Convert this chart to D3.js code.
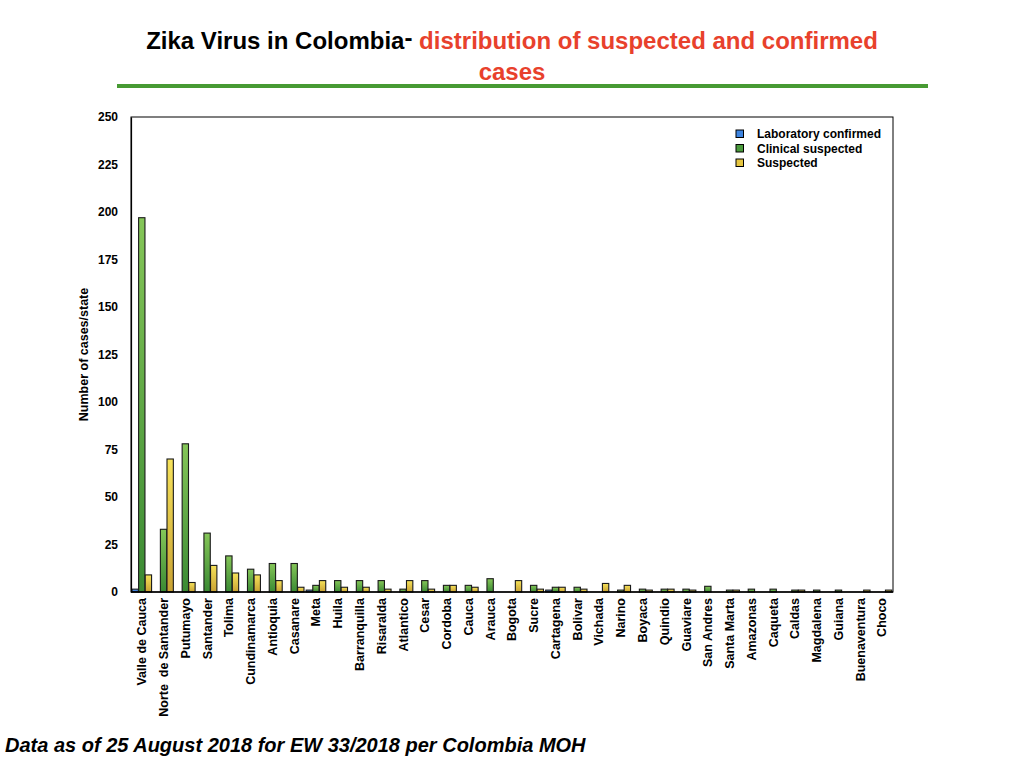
<!DOCTYPE html>
<html>
<head>
<meta charset="utf-8">
<script src="https://cdn.jsdelivr.net/npm/d3@7/dist/d3.min.js"></script>
<style>
  html, body { margin: 0; padding: 0; background: #fff; }
  svg { display: block; font-family: "Liberation Sans", Arial, Helvetica, sans-serif; }
</style>
</head>
<body>
<svg id="chart" width="1024" height="768"></svg>
<script>
const categories = ["Valle de Cauca","Norte  de Santander","Putumayo","Santander","Tolima","Cundinamarca","Antioquia","Casanare","Meta","Huila","Barranquilla","Risaralda","Atlantico","Cesar","Cordoba","Cauca","Arauca","Bogota","Sucre","Cartagena","Bolivar","Vichada","Narino","Boyaca","Quindio","Guaviare","San Andres","Santa Marta","Amazonas","Caqueta","Caldas","Magdalena","Guiana","Buenaventura","Choco"];
const labConfirmed      = [1.5,0,0,0,0,0,0,0,1,0,0,0,0,0,0,0,0,0,0,1,0,0,0,0,0,0,0,0,0,0,0,0,0,0,0];
const clinicalSuspected = [197,33,78,31,19,12,15,15,3.5,6,6,6,1.5,6,3.5,3.5,7,0,3.5,2.5,2.5,0,1,1.5,1.5,1.5,3,1,1.5,1.5,1,1,1,0,0];
const suspected         = [9,70,5,14,10,9,6,2.5,6,2.5,2.5,1.5,6,1.5,3.5,2.5,0,6,1.5,2.5,1.5,4.5,3.5,1,1.5,1,0,1,0,0,1,0,0,1,1];
const seriesNames = ["Laboratory confirmed","Clinical suspected","Suspected"];
const yTicks = [0,25,50,75,100,125,150,175,200,225,250];

const svg = d3.select("#chart");
const plot = {left: 131, right: 893, top: 117, bottom: 592};

// gradients
const defs = svg.append("defs");
const gradSpecs = [
  {id: "gBlue",   top: "#5b9cf0", bottom: "#2a66c4"},
  {id: "gGreen",  top: "#85c658", bottom: "#3a8a33"},
  {id: "gYellow", top: "#f6e25a", bottom: "#c9a233"}
];
gradSpecs.forEach(g => {
  const lg = defs.append("linearGradient").attr("id", g.id)
    .attr("x1", 0).attr("y1", 0).attr("x2", 0).attr("y2", 1);
  lg.append("stop").attr("offset", "0%").attr("stop-color", g.top);
  lg.append("stop").attr("offset", "100%").attr("stop-color", g.bottom);
});
const fills = ["url(#gBlue)", "url(#gGreen)", "url(#gYellow)"];
const legendFills = ["#3d84e0", "#4a9a3c", "#e6c640"];

// title
const title = svg.append("text")
  .attr("x", 512).attr("y", 49)
  .attr("text-anchor", "middle")
  .attr("font-size", 24).attr("font-weight", "bold");
title.append("tspan").attr("fill", "#000").text("Zika Virus in Colombia");
title.append("tspan").attr("fill", "#000").attr("dy", -3).text("-");
title.append("tspan").attr("fill", "#e8412c").attr("dy", 3).text(" distribution of suspected and confirmed");
svg.append("text")
  .attr("x", 512).attr("y", 80)
  .attr("text-anchor", "middle")
  .attr("font-size", 24).attr("font-weight", "bold")
  .attr("fill", "#e8412c").text("cases");

svg.append("rect")
  .attr("x", 117).attr("y", 84).attr("width", 811).attr("height", 4)
  .attr("fill", "#479a33");

// scales
const y = d3.scaleLinear().domain([0, 250]).range([plot.bottom, plot.top]);
const x0 = d3.scaleBand().domain(categories).range([plot.left, plot.right]).paddingInner(0).paddingOuter(0);
const x1 = d3.scaleBand().domain(seriesNames).range([1, x0.bandwidth() - 1.2]).paddingInner(0.04);

// bars
const series = [labConfirmed, clinicalSuspected, suspected];
const barData = [];
categories.forEach((c, i) => {
  seriesNames.forEach((s, k) => {
    const v = series[k][i];
    if (v > 0) barData.push({cat: c, ser: s, k: k, v: v});
  });
});
svg.append("g").selectAll("rect").data(barData).join("rect")
  .attr("x", d => x0(d.cat) + x1(d.ser))
  .attr("y", d => y(d.v))
  .attr("width", x1.bandwidth())
  .attr("height", d => y(0) - y(d.v))
  .attr("fill", d => fills[d.k])
  .attr("stroke", "#1a1a1a")
  .attr("stroke-width", 1.1);

// frame
svg.append("rect")
  .attr("x", plot.left).attr("y", plot.top)
  .attr("width", plot.right - plot.left).attr("height", plot.bottom - plot.top)
  .attr("fill", "none").attr("stroke", "#000").attr("stroke-width", 1);
svg.append("line")
  .attr("x1", plot.left).attr("x2", plot.right)
  .attr("y1", plot.bottom).attr("y2", plot.bottom)
  .attr("stroke", "#000").attr("stroke-width", 1.6);

// y axis
const yAxis = d3.axisLeft(y).tickValues(yTicks).tickSize(0).tickPadding(13);
const yg = svg.append("g").attr("transform", `translate(${plot.left},0)`).call(yAxis);
yg.select(".domain").attr("stroke", "#000").attr("stroke-width", 1.2);
yg.selectAll("text").attr("font-size", 12).attr("font-weight", "bold")
  .attr("font-family", "Liberation Sans, Arial, sans-serif").attr("fill", "#000");

// x axis labels
const xAxis = d3.axisBottom(x0).tickSize(0).tickPadding(0);
const xg = svg.append("g").attr("transform", `translate(0,${plot.bottom})`).call(xAxis);
xg.select(".domain").remove();
xg.selectAll("text")
  .attr("font-size", 12.5).attr("font-weight", "bold")
  .attr("font-family", "Liberation Sans, Arial, sans-serif").attr("fill", "#000")
  .style("white-space", "pre")
  .attr("transform", "rotate(-90)")
  .attr("text-anchor", "end")
  .attr("x", -6).attr("y", 0).attr("dy", "0.35em");

// y axis title
svg.append("text")
  .attr("transform", `translate(88,${(plot.top + plot.bottom) / 2}) rotate(-90)`)
  .attr("text-anchor", "middle")
  .attr("font-size", 12.5).attr("font-weight", "bold")
  .text("Number of cases/state");

// legend
const lg = svg.append("g").attr("transform", "translate(736,130)");
seriesNames.forEach((s, k) => {
  const row = lg.append("g").attr("transform", `translate(0,${k * 14.5})`);
  row.append("rect").attr("x", 0).attr("y", 0).attr("width", 7.5).attr("height", 7.5)
    .attr("fill", legendFills[k]).attr("stroke", "#000").attr("stroke-width", 1);
  row.append("text").attr("x", 21).attr("y", 4).attr("dy", "0.35em")
    .attr("font-size", 12).attr("font-weight", "bold").text(s);
});

// footer
svg.append("text")
  .attr("x", 5).attr("y", 752)
  .attr("font-size", 20).attr("font-weight", "bold").attr("font-style", "italic")
  .text("Data as of 25 August 2018 for EW 33/2018 per Colombia MOH");
</script>
</body>
</html>
